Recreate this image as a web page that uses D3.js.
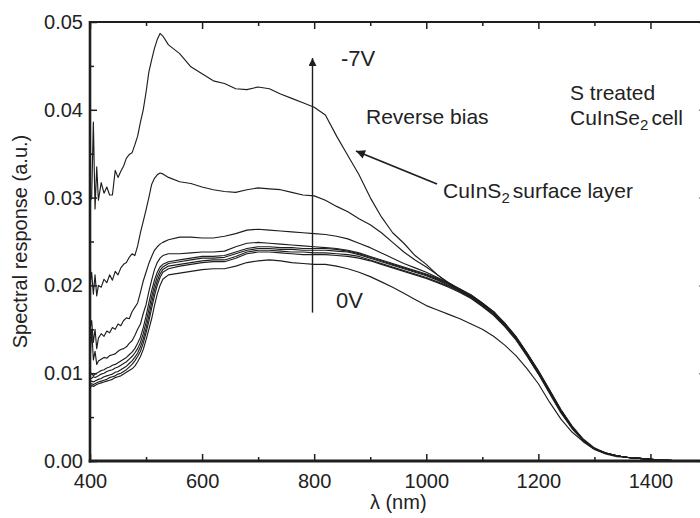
<!DOCTYPE html>
<html><head><meta charset="utf-8">
<script src="https://cdn.jsdelivr.net/npm/d3@7"></script>
<style>
body{margin:0;background:#fff}
svg{display:block}
text{font-family:Arial,"Liberation Sans",Helvetica,sans-serif;fill:#222}
</style>
</head><body>
<svg id="chart" width="700" height="518"></svg>
<script>
// ---- data ----
const wavelengths = [
400,403,406,409,412,415,420,425,430,435,
440,445,450,455,460,465,470,475,480,485,
490,495,500,505,510,515,520,525,530,540,
560,580,600,620,640,660,680,700,720,740,
760,780,800,820,840,860,880,900,920,940,
960,980,1000,1020,1040,1060,1080,1100,1120,1140,
1160,1180,1200,1220,1240,1260,1280,1300,1320,1340,
1360,1380,1400,1420,1440,1460,1480,1500];

const bias0V = [
.0083,.0086,.0085,.0086,.0087,.0088,.0089,.0090,.0091,.0092,
.0093,.0095,.0096,.0097,.0099,.0101,.0103,.0105,.0108,.0113,
.0119,.0127,.0138,.0150,.0162,.0177,.0190,.0200,.0207,.0212,
.0214,.0216,.0218,.0219,.0219,.0222,.0226,.0228,.0229,.0228,
.0226,.0225,.0224,.0224,.0222,.0219,.0215,.0210,.0204,.0198,
.0191,.0184,.0177,.0172,.0167,.0162,.0156,.0150,.0142,.0132,
.0120,.0105,.0088,.0067,.0048,.0033,.0022,.0013,.0008,.0005,
.0004,.0003,.0002,.0001,.00005,.00002,0,0];

const bias2 = [
.0087,.0088,.0087,.0088,.0089,.0090,.0091,.0092,.0093,.0095,
.0096,.0097,.0099,.0100,.0102,.0104,.0107,.0110,.0114,.0119,
.0125,.0134,.0146,.0159,.0174,.0188,.0200,.0209,.0215,.0219,
.0222,.0224,.0226,.0227,.0227,.0231,.0236,.0238,.0238,.0237,
.0236,.0235,.0235,.0235,.0234,.0233,.0231,.0228,.0224,.0220,
.0216,.0212,.0208,.0203,.0198,.0192,.0185,.0176,.0166,.0153,
.0138,.0119,.0099,.0077,.0055,.0037,.0023,.0014,.0009,.0006,
.0004,.0003,.0002,.0001,.00005,.00002,0,0];

const bias3 = [
.0090,.0091,.0090,.0091,.0092,.0093,.0094,.0096,.0097,.0098,
.0099,.0101,.0102,.0104,.0106,.0108,.0111,.0114,.0118,.0123,
.0130,.0139,.0151,.0165,.0180,.0194,.0205,.0213,.0218,.0222,
.0224,.0226,.0228,.0229,.0229,.0233,.0238,.0240,.0240,.0239,
.0238,.0238,.0237,.0237,.0236,.0235,.0233,.0229,.0225,.0221,
.0217,.0213,.0209,.0204,.0199,.0193,.0186,.0177,.0167,.0154,
.0139,.0120,.0100,.0078,.0056,.0038,.0024,.0014,.0009,.0006,
.0004,.0003,.0002,.0001,.00005,.00002,0,0];

const bias4 = [
.0095,.0094,.0096,.0095,.0096,.0097,.0099,.0100,.0102,.0103,
.0104,.0106,.0107,.0109,.0111,.0113,.0116,.0119,.0123,.0128,
.0135,.0145,.0158,.0172,.0187,.0200,.0210,.0217,.0221,.0225,
.0227,.0229,.0231,.0231,.0232,.0236,.0240,.0242,.0242,.0241,
.0241,.0240,.0240,.0240,.0239,.0238,.0235,.0231,.0227,.0223,
.0219,.0215,.0211,.0206,.0200,.0194,.0187,.0178,.0168,.0155,
.0140,.0121,.0101,.0079,.0057,.0038,.0024,.0014,.0009,.0006,
.0004,.0003,.0002,.0001,.00005,.00002,0,0];

const bias5 = [
.0098,.0100,.0097,.0099,.0100,.0101,.0103,.0104,.0106,.0107,
.0109,.0110,.0112,.0114,.0116,.0118,.0121,.0124,.0128,.0134,
.0141,.0152,.0165,.0180,.0194,.0206,.0215,.0221,.0224,.0227,
.0229,.0231,.0233,.0233,.0234,.0238,.0242,.0244,.0244,.0243,
.0243,.0242,.0242,.0242,.0241,.0239,.0236,.0232,.0228,.0224,
.0220,.0216,.0212,.0207,.0201,.0195,.0188,.0179,.0169,.0156,
.0141,.0122,.0102,.0080,.0058,.0039,.0024,.0014,.0009,.0006,
.0004,.0003,.0002,.0001,.00005,.00002,0,0];

const bias6 = [
.0112,.0150,.0115,.0125,.0110,.0114,.0116,.0118,.0117,.0120,
.0121,.0122,.0125,.0127,.0128,.0130,.0134,.0137,.0143,.0150,
.0156,.0168,.0178,.0193,.0206,.0218,.0226,.0231,.0234,.0236,
.0236,.0237,.0238,.0238,.0239,.0244,.0248,.0249,.0248,.0247,
.0246,.0245,.0244,.0243,.0242,.0240,.0237,.0233,.0229,.0225,
.0221,.0217,.0213,.0208,.0202,.0196,.0189,.0180,.0170,.0156,
.0141,.0122,.0102,.0080,.0058,.0039,.0024,.0014,.0009,.0006,
.0004,.0003,.0002,.0001,.00005,.00002,0,0];

const bias7 = [
.0150,.0160,.0135,.0150,.0128,.0140,.0145,.0142,.0148,.0146,
.0152,.0150,.0156,.0154,.0160,.0163,.0162,.0170,.0175,.0180,
.0192,.0205,.0215,.0225,.0233,.0240,.0244,.0247,.0249,.0252,
.0255,.0255,.0254,.0254,.0256,.0259,.0263,.0264,.0263,.0262,
.0261,.0260,.0259,.0258,.0256,.0253,.0248,.0243,.0237,.0231,
.0225,.0220,.0215,.0209,.0203,.0196,.0189,.0180,.0170,.0156,
.0141,.0122,.0102,.0080,.0058,.0039,.0024,.0014,.0009,.0006,
.0004,.0003,.0002,.0001,.00005,.00002,0,0];

const bias8 = [
.0200,.0215,.0190,.0212,.0188,.0200,.0198,.0207,.0203,.0212,
.0206,.0216,.0212,.0220,.0224,.0226,.0232,.0236,.0234,.0245,
.0260,.0273,.0286,.0300,.0315,.0322,.0326,.0328,.0327,.0323,
.0318,.0316,.0312,.0309,.0307,.0306,.0309,.0311,.0310,.0309,
.0306,.0303,.0302,.0297,.0290,.0284,.0276,.0269,.0260,.0249,
.0238,.0229,.0221,.0212,.0203,.0195,.0187,.0179,.0170,.0157,
.0141,.0122,.0102,.0080,.0058,.0039,.0024,.0014,.0009,.0006,
.0004,.0003,.0002,.0001,.00005,.00002,0,0];

const bias7V = [
.0295,.0300,.0386,.0287,.0335,.0297,.0317,.0305,.0312,.0303,
.0303,.0331,.0323,.0330,.0336,.0345,.0349,.0351,.0360,.0370,
.0386,.0400,.0420,.0443,.0457,.0470,.0480,.0487,.0484,.0474,
.0464,.0449,.0441,.0433,.0430,.0424,.0423,.0426,.0424,.0418,
.0413,.0408,.0403,.0394,.0370,.0348,.0326,.0300,.0278,.0260,
.0248,.0234,.0224,.0212,.0202,.0193,.0186,.0178,.0170,.0157,
.0142,.0123,.0103,.0081,.0059,.0040,.0025,.0015,.0009,.0006,
.0004,.0003,.0002,.0001,.00005,.00002,0,0];

const seriesList = [bias0V, bias2, bias3, bias4, bias5, bias6, bias7, bias8, bias7V];

const xMajorTicks = [400,600,800,1000,1200,1400];
const xMinorTicks = [500,700,900,1100,1300,1500];
const yMajorTicks = [0,0.01,0.02,0.03,0.04,0.05];
const yMinorTicks = [0.005,0.015,0.025,0.035,0.045];

// ---- drawing ----
const svg = d3.select("#chart");
const x = d3.scaleLinear().domain([400,1500]).range([90,706.5]);
const y = d3.scaleLinear().domain([0,0.05]).range([461,22]);
const ink = "#1e1e1e";

// curves
const line = d3.line().x((d,i)=>x(wavelengths[i])).y(d=>y(d));
svg.append("g").selectAll("path").data(seriesList).join("path")
  .attr("d", line).attr("fill","none").attr("stroke",ink)
  .attr("stroke-width",1.15).attr("stroke-linejoin","round");

function styleAxis(g){
  g.select(".domain").remove();
  g.selectAll(".tick line").attr("stroke",ink).attr("stroke-width",1.5);
  g.selectAll("text").attr("font-size",20).attr("fill","#222")
   .attr("font-family","Arial, 'Liberation Sans', sans-serif");
}
// left
svg.append("g").attr("transform",`translate(${x(400)},0)`)
  .call(d3.axisLeft(y).tickValues(yMajorTicks).tickFormat(d3.format(".2f")).tickSize(-7).tickPadding(7)).call(styleAxis);
svg.append("g").attr("transform",`translate(${x(400)},0)`)
  .call(d3.axisLeft(y).tickValues(yMinorTicks).tickFormat("").tickSize(-4)).call(styleAxis);
// right
svg.append("g").attr("transform",`translate(${x(1500)},0)`)
  .call(d3.axisRight(y).tickValues(yMajorTicks).tickFormat("").tickSize(-7)).call(styleAxis);
svg.append("g").attr("transform",`translate(${x(1500)},0)`)
  .call(d3.axisRight(y).tickValues(yMinorTicks).tickFormat("").tickSize(-4)).call(styleAxis);
// bottom
svg.append("g").attr("transform",`translate(0,${y(0)})`)
  .call(d3.axisBottom(x).tickValues(xMajorTicks).tickFormat(d3.format("d")).tickSize(-7).tickPadding(13)).call(styleAxis);
svg.append("g").attr("transform",`translate(0,${y(0)})`)
  .call(d3.axisBottom(x).tickValues(xMinorTicks).tickFormat("").tickSize(-4)).call(styleAxis);
// top
svg.append("g").attr("transform",`translate(0,${y(0.05)})`)
  .call(d3.axisTop(x).tickValues(xMajorTicks).tickFormat("").tickSize(-7)).call(styleAxis);
svg.append("g").attr("transform",`translate(0,${y(0.05)})`)
  .call(d3.axisTop(x).tickValues(xMinorTicks).tickFormat("").tickSize(-4)).call(styleAxis);

// frame lines
svg.append("line").attr("x1",x(400)).attr("x2",x(1500)).attr("y1",y(0.05)).attr("y2",y(0.05)).attr("stroke",ink).attr("stroke-width",1.8);
svg.append("line").attr("x1",x(1500)).attr("x2",x(1500)).attr("y1",y(0.05)).attr("y2",y(0)).attr("stroke",ink).attr("stroke-width",1.8);
svg.append("line").attr("x1",x(400)).attr("x2",x(400)).attr("y1",y(0.05)-1).attr("y2",y(0)+1.5).attr("stroke",ink).attr("stroke-width",2.6);
svg.append("line").attr("x1",x(400)-1.3).attr("x2",x(1500)).attr("y1",y(0)).attr("y2",y(0)).attr("stroke",ink).attr("stroke-width",3);

// axis titles
svg.append("text").attr("x",(x(400)+x(1500))/2).attr("y",509).attr("text-anchor","middle")
  .attr("font-size",20).text("λ (nm)");
svg.append("text").attr("transform",`translate(27,${(y(0)+y(0.05))/2}) rotate(-90)`)
  .attr("text-anchor","middle").attr("font-size",20).text("Spectral response (a.u.)");

// arrow markers
const defs = svg.append("defs");
defs.append("marker").attr("id","headV").attr("viewBox","0 0 10 10").attr("refX",10).attr("refY",5)
  .attr("markerUnits","userSpaceOnUse").attr("markerWidth",16).attr("markerHeight",8).attr("orient","auto")
  .append("path").attr("d","M0,0L10,5L0,10z").attr("fill",ink);
defs.append("marker").attr("id","headD").attr("viewBox","0 0 10 10").attr("refX",10).attr("refY",5)
  .attr("markerUnits","userSpaceOnUse").attr("markerWidth",15).attr("markerHeight",9).attr("orient","auto")
  .append("path").attr("d","M0,0L10,5L0,10z").attr("fill",ink);

// vertical bias arrow
svg.append("line").attr("x1",x(797)).attr("x2",x(797)).attr("y1",y(0.0169)).attr("y2",y(0.0459))
  .attr("stroke",ink).attr("stroke-width",1.4).attr("marker-end","url(#headV)");
// diagonal arrow to CuInS2 feature
svg.append("line").attr("x1",437).attr("x2",356).attr("y1",184).attr("y2",151)
  .attr("stroke",ink).attr("stroke-width",1.8).attr("marker-end","url(#headD)");

// annotations
const ann = svg.append("g").attr("font-size",21);
ann.append("text").attr("x",341).attr("y",66).attr("font-size",22).text("-7V");
ann.append("text").attr("x",336).attr("y",308).attr("font-size",22).text("0V");
ann.append("text").attr("x",366).attr("y",124).text("Reverse bias");
ann.append("text").attr("x",570).attr("y",100).text("S treated");
const t2 = ann.append("text").attr("x",570).attr("y",125);
t2.append("tspan").text("CuInSe");
t2.append("tspan").attr("font-size",15).attr("dy",5).text("2");
t2.append("tspan").attr("dy",-5).attr("dx",3).text("cell");
const t3 = ann.append("text").attr("x",443).attr("y",198);
t3.append("tspan").text("CuInS");
t3.append("tspan").attr("font-size",15).attr("dy",5).text("2");
t3.append("tspan").attr("dy",-5).attr("dx",3).text("surface layer");
</script>
</body></html>
